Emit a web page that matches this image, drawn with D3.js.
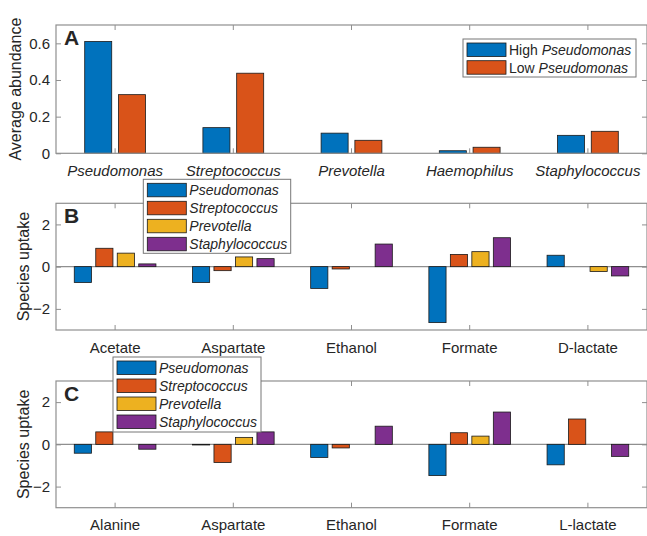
<!DOCTYPE html>
<html>
<head>
<meta charset="utf-8">
<script src="https://cdn.jsdelivr.net/npm/d3@7"></script>
<style>
  body { margin: 0; background: #fff; }
  text { font-family: 'Liberation Sans', Arial, sans-serif; fill: #262626; }
</style>
</head>
<body>
<div id="chart"></div>
<script>
// ---- data ----
const generaA = ["Pseudomonas", "Streptococcus", "Prevotella", "Haemophilus", "Staphylococcus"];
const highPseudomonas = [0.61, 0.14, 0.11, 0.014, 0.098];
const lowPseudomonas = [0.32, 0.437, 0.071, 0.033, 0.12];

const speciesNames = ["Pseudomonas", "Streptococcus", "Prevotella", "Staphylococcus"];

const metabolitesB = ["Acetate", "Aspartate", "Ethanol", "Formate", "D-lactate"];
const pseudomonasB = [-0.75, -0.75, -1.03, -2.65, 0.54];
const streptococcusB = [0.87, -0.19, -0.11, 0.58, 0];
const prevotellaB = [0.64, 0.46, 0, 0.71, -0.23];
const staphylococcusB = [0.13, 0.38, 1.07, 1.37, -0.44];

const metabolitesC = ["Alanine", "Aspartate", "Ethanol", "Formate", "L-lactate"];
const pseudomonasC = [-0.42, -0.03, -0.62, -1.48, -0.97];
const streptococcusC = [0.59, -0.86, -0.17, 0.55, 1.2];
const prevotellaC = [0, 0.33, 0, 0.39, 0];
const staphylococcusC = [-0.23, 0.59, 0.86, 1.53, -0.57];

const ticksA = [0, 0.2, 0.4, 0.6];
const ticksBC = [-2, 0, 2];

const colors = ["#0072BD", "#D95319", "#EDB120", "#7E2F8E"];

const width = 647, height = 536;
const left = 56, right = 647;
const axisColor = "#8f8f8f";

const svg = d3.select("#chart").append("svg")
  .attr("width", width)
  .attr("height", height);

function panel(opts) {
  const g = svg.append("g");
  const x = d3.scaleBand().domain(opts.categories).range([left, right]);
  const y = d3.scaleLinear().domain(opts.domain).range([opts.bottom, opts.top]);
  const n = opts.series.length;
  const gw = Math.min(0.8, n / (n + 1.5)) * x.bandwidth();
  const inner = d3.scaleBand().domain(d3.range(n)).range([-gw / 2, gw / 2])
    .paddingInner(0.2).paddingOuter(0.1);

  // zero line
  if (opts.domain[0] < 0) {
    g.append("line")
      .attr("x1", left).attr("x2", right)
      .attr("y1", y(0)).attr("y2", y(0))
      .attr("stroke", axisColor).attr("stroke-width", 1.2);
  }

  // bars
  opts.series.forEach((vals, si) => {
    g.append("g").selectAll("rect")
      .data(vals)
      .join("rect")
      .attr("x", (d, i) => x(opts.categories[i]) + x.bandwidth() / 2 + inner(si))
      .attr("width", inner.bandwidth())
      .attr("y", d => Math.min(y(0), y(d)))
      .attr("height", d => Math.abs(y(d) - y(0)))
      .attr("fill", colors[si])
      .attr("stroke", "#1a1a1a")
      .attr("stroke-width", 0.8);
  });

  // box
  g.append("rect")
    .attr("x", left).attr("y", opts.top)
    .attr("width", right - left).attr("height", opts.bottom - opts.top)
    .attr("fill", "none").attr("stroke", axisColor).attr("stroke-width", 1.2);

  // x axis (ticks inside, bottom and top)
  const xb = g.append("g").attr("transform", `translate(0,${opts.bottom})`)
    .call(d3.axisBottom(x).tickSizeInner(-5).tickSizeOuter(0).tickPadding(12));
  xb.select(".domain").remove();
  xb.selectAll("line").attr("stroke", axisColor);
  xb.selectAll("text")
    .attr("font-size", 15)
    .attr("font-style", opts.italicCats ? "italic" : "normal")
    .attr("fill", "#262626");
  const xt = g.append("g").attr("transform", `translate(0,${opts.top})`)
    .call(d3.axisTop(x).tickSizeInner(-5).tickSizeOuter(0).tickFormat(""));
  xt.select(".domain").remove();
  xt.selectAll("line").attr("stroke", axisColor);

  // y axis
  const yl = g.append("g").attr("transform", `translate(${left},0)`)
    .call(d3.axisLeft(y).tickValues(opts.ticks).tickSizeInner(-5).tickSizeOuter(0)
      .tickPadding(6).tickFormat(opts.fmt));
  yl.select(".domain").remove();
  yl.selectAll("line").attr("stroke", axisColor);
  yl.selectAll("text").attr("font-size", 15).attr("fill", "#262626").attr("dx", "0.5em").attr("x", -6 - 5 - 6);
  yl.selectAll("text").attr("dx", null).attr("x", -6);
  const yr = g.append("g").attr("transform", `translate(${right},0)`)
    .call(d3.axisRight(y).tickValues(opts.ticks).tickSizeInner(-5).tickSizeOuter(0).tickFormat(""));
  yr.select(".domain").remove();
  yr.selectAll("line").attr("stroke", axisColor);

  // y label
  g.append("text")
    .attr("transform", `translate(${opts.ylabelX},${(opts.top + opts.bottom) / 2}) rotate(-90)`)
    .attr("text-anchor", "middle")
    .attr("font-size", 16)
    .text(opts.ylabel);

  // panel letter
  g.append("text")
    .attr("x", left + 8).attr("y", opts.top + 20)
    .attr("font-size", 21).attr("font-weight", "bold")
    .attr("fill", "#000")
    .text(opts.letter);

  // legend
  const lg = opts.legend;
  const leg = g.append("g");
  leg.append("rect")
    .attr("x", lg.x).attr("y", lg.y).attr("width", lg.w).attr("height", lg.h)
    .attr("fill", "#fff").attr("stroke", "#777").attr("stroke-width", 1);
  lg.items.forEach((parts, i) => {
    const ry = lg.y + 4 + i * lg.pitch;
    leg.append("rect")
      .attr("x", lg.x + 4).attr("y", ry).attr("width", 39).attr("height", 13.5)
      .attr("fill", colors[i]).attr("stroke", "#1a1a1a").attr("stroke-width", 0.8);
    const t = leg.append("text")
      .attr("x", lg.x + 46).attr("y", ry + 12)
      .attr("font-size", 14).attr("fill", "#000");
    parts.forEach(p => {
      t.append("tspan").attr("font-style", p.it ? "italic" : "normal").text(p.t);
    });
  });
}

const fmtA = d => d === 0 ? "0" : d.toFixed(1);
const speciesItems = speciesNames.map(s => [{ t: s, it: true }]);

panel({
  letter: "A", categories: generaA, italicCats: true,
  series: [highPseudomonas, lowPseudomonas],
  domain: [0, 0.7], ticks: ticksA, fmt: fmtA,
  top: 25, bottom: 153.3, ylabel: "Average abundance", ylabelX: 21,
  legend: {
    x: 463, y: 39, w: 173, h: 38, pitch: 17.7,
    items: [[{ t: "High ", it: false }, { t: "Pseudomonas", it: true }],
            [{ t: "Low ", it: false }, { t: "Pseudomonas", it: true }]]
  }
});

panel({
  letter: "B", categories: metabolitesB, italicCats: false,
  series: [pseudomonasB, streptococcusB, prevotellaB, staphylococcusB],
  domain: [-3, 3], ticks: ticksBC, fmt: d3.format("d"),
  top: 203.3, bottom: 330, ylabel: "Species uptake", ylabelX: 29,
  legend: { x: 143.3, y: 179.3, w: 147.4, h: 74, pitch: 18, items: speciesItems }
});

panel({
  letter: "C", categories: metabolitesC, italicCats: false,
  series: [pseudomonasC, streptococcusC, prevotellaC, staphylococcusC],
  domain: [-3, 3], ticks: ticksBC, fmt: d3.format("d"),
  top: 381, bottom: 507.7, ylabel: "Species uptake", ylabelX: 29,
  legend: { x: 113, y: 357, w: 148, h: 75, pitch: 18, items: speciesItems }
});
</script>
</body>
</html>
